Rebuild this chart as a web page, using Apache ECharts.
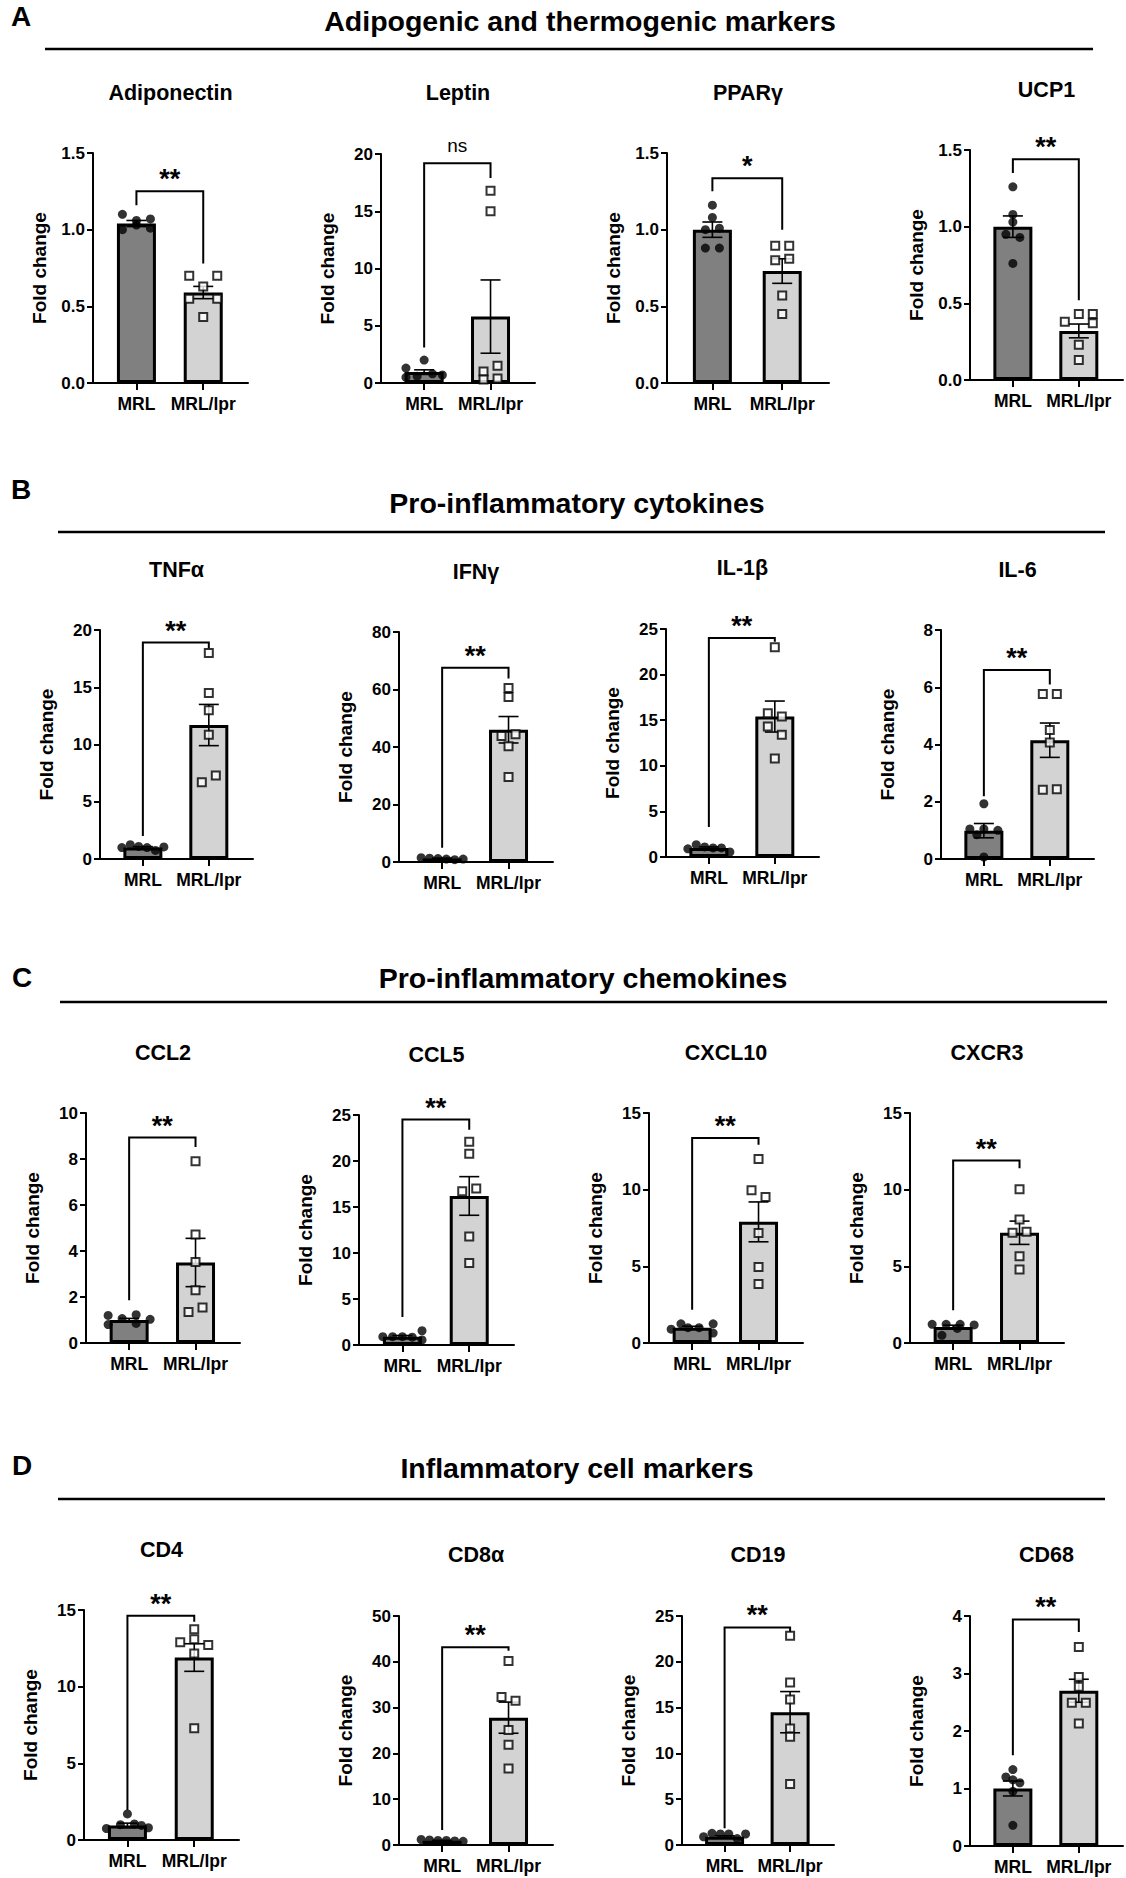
<!DOCTYPE html>
<html><head><meta charset="utf-8">
<script src="https://cdn.jsdelivr.net/npm/echarts@6/dist/echarts.min.js"></script>
<style>html,body{margin:0;padding:0;background:#fff}#c{width:1126px;height:1878px}</style>
</head><body><div id="c"></div>
<script>
// ---------------- DATA ----------------
const groups = ['MRL', 'MRL/lpr'];
const sectionLetters = ['A', 'B', 'C', 'D'];
const sectionTitles = ['Adipogenic and thermogenic markers', 'Pro-inflammatory cytokines', 'Pro-inflammatory chemokines', 'Inflammatory cell markers'];
const markers = ['Adiponectin', 'Leptin', 'PPARγ', 'UCP1', 'TNFα', 'IFNγ', 'IL-1β', 'IL-6', 'CCL2', 'CCL5', 'CXCL10', 'CXCR3', 'CD4', 'CD8α', 'CD19', 'CD68'];
const yAxisName = 'Fold change';
const yMax = [1.5, 20, 1.5, 1.5, 20, 80, 25, 8, 10, 25, 15, 15, 15, 50, 25, 4];
const yStep = [0.5, 5, 0.5, 0.5, 5, 20, 5, 2, 2, 5, 5, 5, 5, 10, 5, 1];
const yDecimals = [1, 0, 1, 1, 0, 0, 0, 0, 0, 0, 0, 0, 0, 0, 0, 0];

const mrlMean = [1.04, 0.95, 1.0, 1.0, 1.0, 1.2, 1.0, 0.99, 1.0, 0.9, 1.0, 1.05, 0.95, 0.95, 0.9, 1.0];
const mrlSem  = [0.02, 0.2, 0.05, 0.07, 0.08, 0.15, 0.1, 0.25, 0.07, 0.13, 0.09, 0.11, 0.15, 0.06, 0.1, 0.13];
const lprMean = [0.59, 5.8, 0.73, 0.32, 11.7, 46.0, 15.4, 4.15, 3.5, 16.2, 7.9, 7.19, 11.9, 27.8, 14.5, 2.7];
const lprSem  = [0.04, 3.2, 0.08, 0.045, 1.8, 4.6, 1.7, 0.6, 1.05, 2.1, 1.3, 0.76, 0.9, 3.4, 2.25, 0.2];

const mrlPoints = [
  [1.10, 1.06, 1.07, 1.00, 1.03, 1.01],
  [2.0, 1.3, 0.5, 0.6, 0.8, 0.7],
  [1.16, 1.08, 1.00, 1.01, 0.88, 0.88],
  [1.26, 1.08, 1.03, 0.95, 0.93, 0.76],
  [1.0, 1.25, 1.1, 1.0, 0.75, 1.05],
  [1.5, 1.3, 1.2, 1.0, 0.8, 1.0],
  [0.9, 1.35, 1.1, 1.0, 1.0, 0.55],
  [1.93, 1.05, 1.0, 1.05, 0.85, 0.07],
  [1.2, 1.23, 1.06, 1.03, 0.8, 0.85],
  [1.55, 0.9, 0.9, 0.9, 0.85, 0.55],
  [1.25, 1.25, 1.0, 1.0, 0.9, 0.65],
  [1.22, 1.22, 1.22, 1.18, 0.5, 0.95],
  [1.7, 1.0, 1.05, 0.95, 0.8, 0.75],
  [1.2, 1.1, 1.0, 1.0, 0.9, 0.8],
  [1.27, 1.2, 1.2, 1.2, 0.9, 0.7],
  [1.33, 1.2, 1.15, 1.1, 0.95, 0.36]
];
const lprPoints = [
  [0.70, 0.70, 0.63, 0.55, 0.55, 0.43],
  [16.8, 15.0, 1.5, 1.0, 0.3, 0.4],
  [0.895, 0.895, 0.80, 0.81, 0.57, 0.45],
  [0.43, 0.43, 0.38, 0.37, 0.23, 0.13],
  [18.0, 14.5, 13.0, 10.85, 7.3, 6.7],
  [60.5, 57.4, 43.8, 44.4, 40.3, 29.6],
  [23.0, 15.75, 15.4, 14.3, 13.4, 10.8],
  [5.76, 5.76, 4.51, 4.07, 2.42, 2.44],
  [7.9, 4.72, 3.52, 2.29, 1.35, 1.54],
  [22.1, 20.8, 16.7, 17.0, 11.8, 8.9],
  [12.0, 9.96, 9.52, 7.17, 4.96, 3.85],
  [10.02, 8.06, 7.19, 7.25, 5.66, 4.79],
  [13.74, 13.09, 12.89, 12.72, 12.17, 7.28],
  [40.2, 32.3, 31.5, 25.1, 21.9, 16.7],
  [22.84, 17.75, 15.89, 12.73, 11.82, 6.65],
  [3.46, 2.94, 2.77, 2.49, 2.49, 2.13]
];
const significance = ['**', 'ns', '*', '**', '**', '**', '**', '**', '**', '**', '**', '**', '**', '**', '**', '**'];
const bracketTop   = [1.25, 19.2, 1.335, 1.44, 18.9, 67.6, 24.0, 6.6, 8.93, 24.5, 13.37, 11.9, 14.63, 43.2, 23.75, 3.94];
const bracketLeft  = [1.16, 3.1, 1.25, 1.35, 2.0, 5.0, 3.3, 2.19, 1.86, 3.04, 2.17, 2.13, 1.96, 3.3, 1.82, 1.58];
const bracketRight = [0.78, 17.9, 1.0, 0.52, 18.4, 63.8, 23.6, 6.1, 8.52, 23.4, 12.93, 11.4, 14.24, 42.4, 23.27, 3.72];

// ---------------- LAYOUT ----------------
const FONT = "'Liberation Sans', Arial, Helvetica, sans-serif";
const X_MIN = -0.65, X_MAX = 1.67;
const JITTER_PX = 14;
// [left, top, width, height]
const grids = [
  [93, 153, 155, 230], [381, 154, 154, 229], [667, 153, 162, 230], [970, 150, 153, 230],
  [100, 630, 153, 229], [399, 632, 154, 230], [666, 629, 153, 228], [941, 630, 153, 229],
  [86, 1113, 154, 230], [359, 1115, 155, 230], [649, 1113, 154, 230], [910, 1113, 154, 230],
  [84, 1610, 155, 230], [399, 1616, 154, 229], [682, 1616, 152, 229], [970, 1616, 153, 230]
];
const titleY = [93, 93, 93, 90, 570, 572, 568, 570, 1053, 1055, 1053, 1053, 1550, 1555, 1555, 1555];
const mrlSlots = [
  [-1, 0, 1, -1, 0, 1], [0, -1.3, -1.3, -0.5, 0.6, 1.3], [0, 0, -0.5, 0.5, -0.5, 0.5], [0, 0, 0, -0.5, 0.5, 0],
  [-1.5, -0.9, -0.3, 0.3, 0.9, 1.5], [-1.5, -0.9, -0.3, 0.3, 0.9, 1.5], [-1.5, -0.9, -0.3, 0.3, 0.9, 1.5], [0, -1, 1, 0, -0.5, 0],
  [-1.5, 0.5, -0.5, 1.5, -1.5, 0.5], [1.4, -1.4, -0.7, 0, 0.7, 1.4], [-0.8, 1.5, -0.3, 0.5, -1.5, 1.5], [-1.5, -0.5, 0.5, 1.5, -0.8, 0.3],
  [0, -0.5, 0.5, 1, 1.5, -1.5], [-1.5, -0.9, -0.3, 0.3, 0.9, 1.5], [-0.9, -0.3, 0.3, 1.5, -1.5, 0.9], [0, -0.5, 0, 0.5, 0, 0]
];
const lprSlots = [
  [-1, 1, 0, -1, 1, 0], [0, 0, 0.5, -0.5, -0.5, 0.5], [-0.5, 0.5, -0.5, 0.5, 0, 0], [0, 1, -1, 1, 0, 0],
  [0, 0, 0, 0, 0.5, -0.5], [0, 0, -0.5, 0.5, 0, 0], [0, -0.5, 0.5, -0.5, 0.5, 0], [-0.5, 0.5, 0, 0, -0.5, 0.5],
  [0, 0, 0, 0, -0.5, 0.5], [0, 0, -0.5, 0.5, 0, 0], [0, -0.5, 0.5, 0, 0, 0], [0, 0, -0.5, 0.5, 0, 0],
  [0, 0, -1, 1, 0, 0], [0, -0.5, 0.5, 0, 0, 0], [0, 0, 0, 0, 0, 0], [0, 0, 0, -0.5, 0.5, 0]
];
const sectionLayout = [
  {letter: [11, 16], title: [580, 21], line: [45, 1093, 49]},
  {letter: [11, 489], title: [577, 503], line: [58, 1105, 532]},
  {letter: [12, 977], title: [583, 978], line: [60, 1107, 1002]},
  {letter: [12, 1465], title: [577, 1468], line: [58, 1105, 1499]}
];

// ---------------- BUILD ----------------
const option = {
  animation: false,
  backgroundColor: '#fff',
  grid: [], xAxis: [], yAxis: [], series: [], graphic: []
};

sectionLetters.forEach((L, s) => {
  const lay = sectionLayout[s];
  option.graphic.push({type: 'text', x: lay.letter[0], y: lay.letter[1],
    style: {text: L, fontSize: 28, fontWeight: 'bold', fontFamily: FONT, fill: '#000', align: 'left', verticalAlign: 'middle'}});
  option.graphic.push({type: 'text', x: lay.title[0], y: lay.title[1],
    style: {text: sectionTitles[s], fontSize: 28.5, fontWeight: 'bold', fontFamily: FONT, fill: '#000', align: 'center', verticalAlign: 'middle'}});
  option.graphic.push({type: 'line', shape: {x1: lay.line[0], y1: lay.line[2], x2: lay.line[1], y2: lay.line[2]},
    style: {stroke: '#000', lineWidth: 2.5}});
});

markers.forEach((name, i) => {
  const g = grids[i];
  option.grid.push({left: g[0], top: g[1], width: g[2], height: g[3], containLabel: false});
  option.graphic.push({type: 'text', x: g[0] + g[2] / 2, y: titleY[i],
    style: {text: name, fontSize: 21.5, fontWeight: 'bold', fontFamily: FONT, fill: '#000', align: 'center', verticalAlign: 'middle'}});

  option.xAxis.push({
    type: 'value', gridIndex: i, min: X_MIN, max: X_MAX,
    splitLine: {show: false},
    axisLine: {show: true, onZero: false, lineStyle: {color: '#000', width: 2}},
    axisTick: {show: true, customValues: [0, 1], length: 7, lineStyle: {color: '#000', width: 2}},
    axisLabel: {show: true, customValues: [0, 1], margin: 12, color: '#000', fontSize: 17.5, fontWeight: 'bold', fontFamily: FONT,
      formatter: v => groups[Math.round(v)] || ''}
  });
  option.yAxis.push({
    type: 'value', gridIndex: i, min: 0, max: yMax[i], interval: yStep[i],
    name: yAxisName, nameLocation: 'middle', nameGap: 44, nameRotate: 90,
    nameTextStyle: {color: '#000', fontSize: 19, fontWeight: 'bold', fontFamily: FONT},
    splitLine: {show: false},
    axisLine: {show: true, onZero: false, lineStyle: {color: '#000', width: 2}},
    axisTick: {show: true, length: 6, lineStyle: {color: '#000', width: 2}},
    axisLabel: {margin: 8, color: '#000', fontSize: 17, fontWeight: 'bold', fontFamily: FONT,
      formatter: v => v.toFixed(yDecimals[i])}
  });

  const unitPerPx = (X_MAX - X_MIN) / g[2];
  const jit = JITTER_PX * unitPerPx;

  option.series.push({
    type: 'bar', xAxisIndex: i, yAxisIndex: i, barWidth: 39, z: 2,
    data: [
      {value: [0, mrlMean[i]], itemStyle: {color: '#808080', borderColor: '#000', borderWidth: 3}},
      {value: [1, lprMean[i]], itemStyle: {color: '#d3d3d3', borderColor: '#000', borderWidth: 3}}
    ]
  });
  option.series.push({
    type: 'custom', xAxisIndex: i, yAxisIndex: i, z: 3, clip: false,
    encode: {x: 0, y: 1},
    data: [[0, mrlMean[i], mrlSem[i]], [1, lprMean[i], lprSem[i]]],
    renderItem: (params, api) => {
      const x = api.value(0), m = api.value(1), s = api.value(2);
      const t = api.coord([x, m + s]), b = api.coord([x, m - s]);
      const hw = 10, st = {stroke: '#000', lineWidth: 1.6};
      return {type: 'group', children: [
        {type: 'line', shape: {x1: t[0], y1: t[1], x2: b[0], y2: b[1]}, style: st},
        {type: 'line', shape: {x1: t[0] - hw, y1: t[1], x2: t[0] + hw, y2: t[1]}, style: st},
        {type: 'line', shape: {x1: b[0] - hw, y1: b[1], x2: b[0] + hw, y2: b[1]}, style: st}
      ]};
    }
  });
  option.series.push({
    type: 'scatter', xAxisIndex: i, yAxisIndex: i, z: 4, symbol: 'circle', symbolSize: 9,
    itemStyle: {color: '#000'},
    data: mrlPoints[i].map((v, k) => [0 + mrlSlots[i][k] * jit, v])
  });
  option.series.push({
    type: 'scatter', xAxisIndex: i, yAxisIndex: i, z: 4, symbol: 'rect', symbolSize: 8,
    itemStyle: {color: '#fff', borderColor: '#000', borderWidth: 2},
    data: lprPoints[i].map((v, k) => [1 + lprSlots[i][k] * jit, v])
  });
  const sig = significance[i];
  option.series.push({
    type: 'custom', xAxisIndex: i, yAxisIndex: i, z: 5, clip: false,
    encode: {x: 0, y: 1},
    data: [[0, bracketTop[i], bracketLeft[i], bracketRight[i]]],
    renderItem: (params, api) => {
      const top = api.value(1), le = api.value(2), re = api.value(3);
      const p0 = api.coord([0, le]), p1 = api.coord([0, top]), p2 = api.coord([1, top]), p3 = api.coord([1, re]);
      const isStar = sig.indexOf('*') >= 0;
      return {type: 'group', children: [
        {type: 'polyline', shape: {points: [p0, p1, p2, p3]}, style: {stroke: '#000', lineWidth: 2, fill: null}},
        {type: 'text', x: (p1[0] + p2[0]) / 2, y: p1[1] - (isStar ? 12 : 18),
          style: {text: sig, fontSize: isStar ? 27 : 19, fontWeight: isStar ? 'bold' : 'normal', fontFamily: FONT,
            fill: '#000', align: 'center', verticalAlign: 'middle'}}
      ]};
    }
  });
});

const chart = echarts.init(document.getElementById('c'), null, {renderer: 'svg'});
chart.setOption(option);
</script>
</body></html>
